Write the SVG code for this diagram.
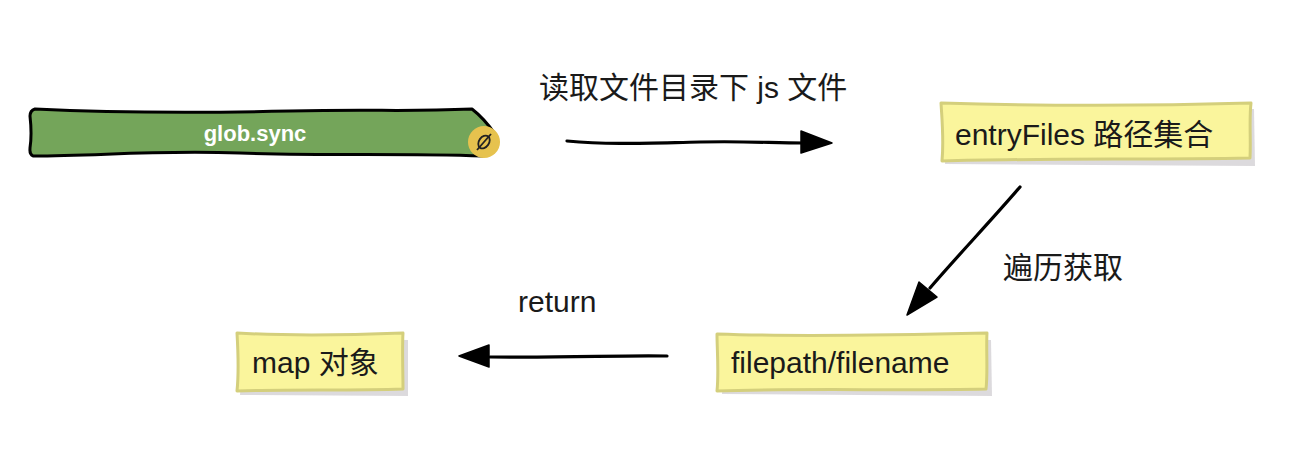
<svg xmlns="http://www.w3.org/2000/svg" width="1308" height="458" viewBox="0 0 1308 458">
<style>
text{font-family:"Liberation Sans","Noto Sans CJK SC",sans-serif;fill:#1a1a1a}
.lbl{font-size:30px}
.note{fill:#faf59c;stroke:#d4cf7c;stroke-width:3;stroke-linejoin:round}
.shadow{fill:#8a8490;opacity:.3}
.line{fill:none;stroke:#000;stroke-width:3.2;stroke-linecap:round}
.head{fill:#000;stroke:#000;stroke-width:1.5;stroke-linejoin:round}
</style>
<rect width="1308" height="458" fill="#fff"/>
<g id="connectors">
<path class="line" d="M567 141C610 145 650 143 700 142S770 143 805 143"/>
<path class="head" d="M801 131L832 143L801 153Z"/>
<path class="line" d="M1020 187C990 222 960 253 930 288"/>
<path class="head" d="M919 282L937 297L907 315Z"/>
<path class="line" d="M667 356C620 355 570 358 490 357"/>
<path class="head" d="M489 345L459 356L489 367Z"/>
</g>
<g id="glob-sync">
<path d="M35 109C120 113 200 113 290 111S400 112 472 109C481 116 488 124 495 134L483 156C400 153 330 156 240 153S100 156 33 156C29 154 30 151 30 148C32 135 31 125 30 116C30 112 32 110 35 109Z" fill="#74a55a" stroke="#000" stroke-width="3" stroke-linejoin="round"/>
<circle cx="484" cy="142" r="16" fill="#e6c24e"/>
<ellipse cx="484" cy="142" rx="5" ry="7" transform="rotate(35 484 142)" fill="none" stroke="#222" stroke-width="1.8"/>
<path d="M477 150L491 134" stroke="#222" stroke-width="1.8" fill="none"/>
<text x="255" y="141" text-anchor="middle" font-size="22" font-weight="700" style="fill:#fff">glob.sync</text>
</g>
<g id="entry-files">
<path class="shadow" d="M949 107L1254 109L1255 166L945 164Z"/>
<path class="note" d="M941 103C1040 106 1150 106 1251 103C1249 120 1251 140 1250 158C1150 160 1040 158 942 161C944 140 942 120 941 103Z"/>
<text class="lbl" x="955" y="145">entryFiles 路径集合</text>
</g>
<g id="file-path">
<path class="shadow" d="M725 338L991 340L992 396L722 394Z"/>
<path class="note" d="M717 334C800 337 900 335 987 333C986 350 988 372 986 389C900 391 800 388 717 391C719 372 717 350 717 334Z"/>
<text class="lbl" x="731" y="373">filepath/filename</text>
</g>
<g id="map-object">
<path class="shadow" d="M243 338L408 340L408 396L240 395Z"/>
<path class="note" d="M237 333C290 336 350 335 403 333C402 350 403 372 403 389C350 391 290 389 237 391C239 372 238 350 237 333Z"/>
<text class="lbl" x="252" y="373">map 对象</text>
</g>
<g id="labels">
<text class="lbl" x="539" y="98">读取文件目录下 js 文件</text>
<text class="lbl" x="1003" y="278">遍历获取</text>
<text class="lbl" x="518" y="312">return</text>
</g>
</svg>
